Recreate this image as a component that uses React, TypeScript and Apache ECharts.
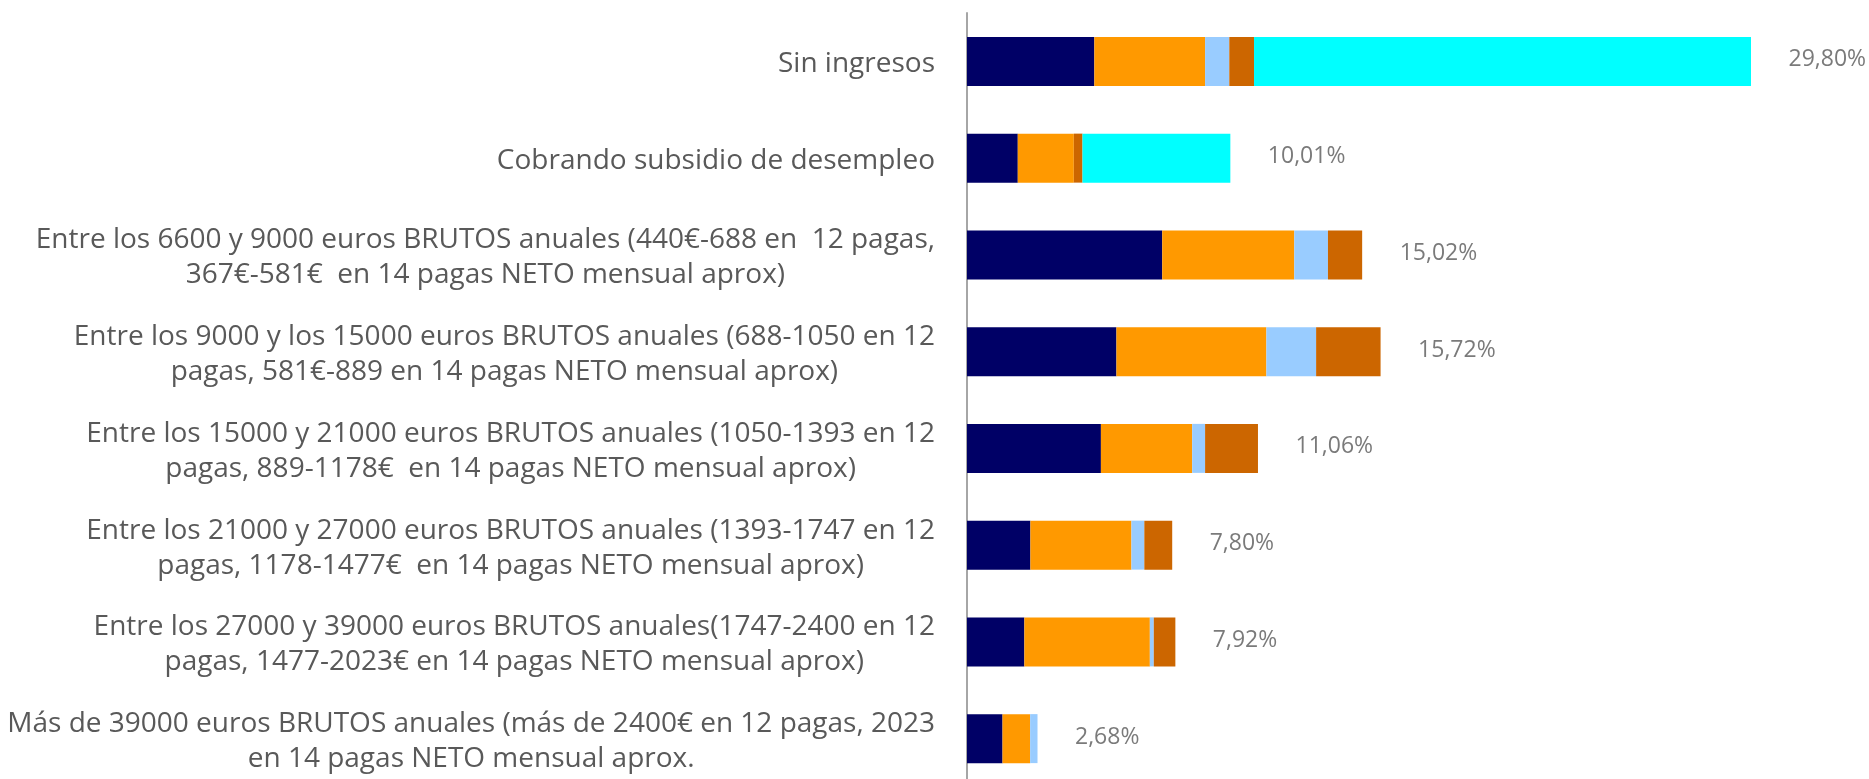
import React, { useEffect, useRef } from "react";
import * as echarts from "echarts";

const categories = [
  "Sin ingresos",
  "Cobrando subsidio de desempleo",
  "Entre los 6600 y 9000 euros BRUTOS anuales (440€-688 en  12 pagas,\n367€-581€  en 14 pagas NETO mensual aprox)",
  "Entre los 9000 y los 15000 euros BRUTOS anuales (688-1050 en 12\npagas, 581€-889 en 14 pagas NETO mensual aprox)",
  "Entre los 15000 y 21000 euros BRUTOS anuales (1050-1393 en 12\npagas, 889-1178€  en 14 pagas NETO mensual aprox)",
  "Entre los 21000 y 27000 euros BRUTOS anuales (1393-1747 en 12\npagas, 1178-1477€  en 14 pagas NETO mensual aprox)",
  "Entre los 27000 y 39000 euros BRUTOS anuales(1747-2400 en 12\npagas, 1477-2023€ en 14 pagas NETO mensual aprox)",
  "Más de 39000 euros BRUTOS anuales (más de 2400€ en 12 pagas, 2023\nen 14 pagas NETO mensual aprox.",
];

const serie1 = [4.84, 1.93, 7.42, 5.68, 5.09, 2.41, 2.18, 1.35];
const serie2 = [4.21, 2.13, 5.02, 5.7, 3.47, 3.84, 4.77, 1.05];
const serie3 = [0.92, 0, 1.28, 1.89, 0.49, 0.49, 0.15, 0.28];
const serie4 = [0.94, 0.33, 1.3, 2.45, 2.01, 1.06, 0.82, 0];
const serie5 = [18.89, 5.62, 0, 0, 0, 0, 0, 0];
const totals = [29.8, 10.01, 15.02, 15.72, 11.06, 7.8, 7.92, 2.68];

const seriesNames = ["Serie 1", "Serie 2", "Serie 3", "Serie 4", "Serie 5"];
const seriesData = [serie1, serie2, serie3, serie4, serie5];
const colors = ["#000066", "#FF9900", "#99CCFF", "#CC6600", "#00FFFF"];

const FONT = "'Open Sans', 'Noto Sans', sans-serif";
const TEXT = "#595959";

export default function App() {
  const ref = useRef<HTMLDivElement>(null);
  useEffect(() => {
    if (!ref.current) return;
    const chart = echarts.init(ref.current, null, { renderer: "svg" });
    const fmt = (v: number) => v.toFixed(2).replace(".", ",") + "%";
    chart.setOption({
      animation: false,
      grid: {
        left: 967,
        top: 13,
        width: 894.5,
        height: 774,
        outerBoundsMode: "none",
        containLabel: false,
      },
      xAxis: {
        type: "value",
        min: 0,
        max: 34,
        show: false,
        splitLine: { show: false },
      },
      yAxis: {
        type: "category",
        inverse: true,
        data: categories,
        axisTick: { show: false },
        axisLine: { show: true, lineStyle: { color: "#a6a6a6", width: 2 } },
        axisLabel: {
          margin: 32,
          formatter: (v: string) =>
            v
              .split("\n")
              .map((l) => `{c|${l}}`)
              .join("\n"),
          rich: {
            c: {
              align: "center",
              fontSize: 28,
              lineHeight: 35,
              fontFamily: FONT,
              color: TEXT,
            },
          },
        },
      },
      series: [
        ...seriesData.map((d, i) => ({
          name: seriesNames[i],
          type: "bar",
          stack: "total",
          barWidth: 49,
          data: d,
          itemStyle: { color: colors[i] },
        })),
        {
          name: "Total",
          type: "scatter",
          data: totals.map((t, i) => [t, i]),
          symbolSize: 1,
          itemStyle: { color: "rgba(0,0,0,0)" },
          label: {
            show: true,
            position: "right",
            distance: 37,
            offset: [0, -4],
            formatter: (p: any) => fmt(p.value[0]),
            fontSize: 23,
            fontFamily: FONT,
            color: TEXT,
          },
        },
      ],
    });
    return () => chart.dispose();
  }, []);
  return (
    <div
      ref={ref}
      style={{ position: "fixed", left: 0, top: 0, width: 1869, height: 779 }}
    />
  );
}
